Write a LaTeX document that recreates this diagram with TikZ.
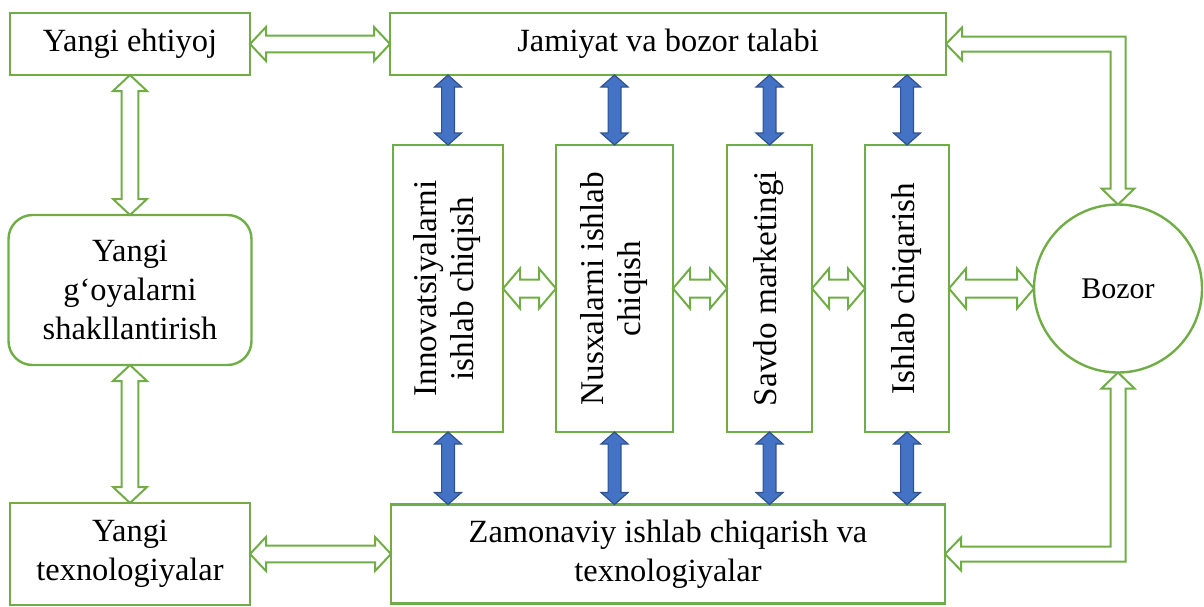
\documentclass[tikz,border=0pt]{standalone}
\usepackage{fontspec}
\setmainfont{Liberation Serif}
\usepackage{graphicx}
\usetikzlibrary{positioning,calc}
\definecolor{boxgreen}{HTML}{70AD47}
\definecolor{blueface}{HTML}{4472C4}
\definecolor{blueedge}{HTML}{2F528F}
\newcommand{\vtext}[1]{\rotatebox{90}{\begin{tabular}{@{}c@{}}#1\end{tabular}}}
\tikzset{
  tip len/.store in=\tipLen,
  tip half/.store in=\tipHalf,
  shaft half/.store in=\shaftHalf,
  box/.style={draw=boxgreen, line width=1.2pt, align=center, inner sep=2pt, outer sep=0pt,
    font=\fontsize{16.2}{19.5}\selectfont},
  colbox/.style={box, minimum height=143.5pt, font=\fontsize{16.6}{18.5}\selectfont},
  fatarrow/.style={to path={let \p1=(\tikztostart), \p2=(\tikztotarget),
      \n1={atan2(\y2-\y1,\x2-\x1)} in
      (\p1) -- ($(\p1)+(\n1:\tipLen)+(\n1+90:\tipHalf)$)
      -- ($(\p1)+(\n1:\tipLen)+(\n1+90:\shaftHalf)$)
      -- ($(\p2)+(\n1:-\tipLen)+(\n1+90:\shaftHalf)$)
      -- ($(\p2)+(\n1:-\tipLen)+(\n1+90:\tipHalf)$) -- (\p2)
      -- ($(\p2)+(\n1:-\tipLen)+(\n1-90:\tipHalf)$)
      -- ($(\p2)+(\n1:-\tipLen)+(\n1-90:\shaftHalf)$)
      -- ($(\p1)+(\n1:\tipLen)+(\n1-90:\shaftHalf)$)
      -- ($(\p1)+(\n1:\tipLen)+(\n1-90:\tipHalf)$) -- cycle}},
  hollow/.style={fatarrow, draw=boxgreen, fill=white, line width=1pt, line join=miter,
    tip len=8pt, tip half=8.5pt, shaft half=4.2pt},
  solidarrow/.style={fatarrow, draw=blueedge, fill=blueface, line width=0.6pt,
    tip len=6pt, tip half=6.75pt, shaft half=3.2pt},
}

\begin{document}
\begin{tikzpicture}[x=0.5pt, y=-0.5pt]
  \useasboundingbox (0,0) rectangle (1204,606);
  \node[box, minimum width=120pt, minimum height=31pt] (ehtiyoj) at (130,44) {Yangi ehtiyoj};
  \node[box, minimum width=278pt, minimum height=31pt, right=70pt of ehtiyoj] (jamiyat) {Jamiyat va bozor talabi};
  \node[box, rounded corners=12pt, minimum width=121.5pt, minimum height=75pt, below=70pt of ehtiyoj] (goya) {Yangi\\g‘oyalarni\\shakllantirish};
  \node[box, minimum width=120pt, minimum height=51pt, below=69pt of goya] (texno) {Yangi\\texnologiyalar};
  \node[box, minimum width=277pt, minimum height=49.5pt, right=70.5pt of texno] (zamon) {Zamonaviy ishlab chiqarish va\\texnologiyalar};

  % middle columns
  \node[colbox, minimum width=55pt, below right=35pt and 1.5pt of jamiyat.south west] (innov) {\vtext{Innovatsiyalarni\\ishlab chiqish}};
  \node[colbox, minimum width=58.5pt, right=26.5pt of innov] (nusxa) {\vtext{Nusxalarni ishlab\\chiqish}};
  \node[colbox, minimum width=42.5pt, right=27pt of nusxa] (savdo) {\vtext{Savdo marketingi}};
  \node[colbox, minimum width=42pt, right=26.5pt of savdo] (ishlab) {\vtext{Ishlab chiqarish}};
  \node[box, circle, minimum size=84pt, inner sep=0pt, font=\fontsize{15}{18}\selectfont, right=42.5pt of ishlab] (bozor) {Bozor};

  \foreach \c in {innov,nusxa,savdo,ishlab}{
    \draw[solidarrow] (\c.north |- jamiyat.south) to (\c.north);
    \draw[solidarrow] (\c.south) to (\c.south |- zamon.north);
  }

  \draw[hollow] (ehtiyoj.east) to (jamiyat.west);
  \draw[hollow] (ehtiyoj.south) to (ehtiyoj.south |- goya.north);
  \draw[hollow] (goya.south) to (goya.south |- texno.north);
  \draw[hollow] (texno.east) to (texno.east -| zamon.west);
  \draw[hollow, tip len=8.5pt, tip half=10pt, shaft half=4.5pt] (innov.east) to (nusxa.west);
  \draw[hollow, tip len=8.5pt, tip half=10pt, shaft half=4.5pt] (nusxa.east) to (savdo.west);
  \draw[hollow, tip len=8.5pt, tip half=10pt, shaft half=4.5pt] (savdo.east) to (ishlab.west);
  \draw[hollow, tip len=8.5pt, tip half=10pt, shaft half=4.5pt] (ishlab.east) to (bozor.west);

  % bent arrows to the market
  \draw[hollow] let \p1=(jamiyat.east), \p2=(bozor.north) in
    (\p1) -- (\x1+8pt,\y1+8.25pt) -- (\x1+8pt,\y1+3.75pt) -- (\x2+3.75pt,\y1+3.75pt)
    -- (\x2+3.75pt,\y2+8pt) -- (\x2+8.25pt,\y2+8pt) -- (\p2) -- (\x2-8.25pt,\y2+8pt)
    -- (\x2-3.75pt,\y2+8pt) -- (\x2-3.75pt,\y1-3.75pt) -- (\x1+8pt,\y1-3.75pt)
    -- (\x1+8pt,\y1-8.25pt) -- cycle;
  \draw[hollow] let \p1=(zamon.east), \p2=(bozor.south) in
    (\p1) -- (\x1+8pt,\y1+8.25pt) -- (\x1+8pt,\y1+3.75pt) -- (\x2-3.75pt,\y1+3.75pt)
    -- (\x2-3.75pt,\y2-8pt) -- (\x2-8.25pt,\y2-8pt) -- (\p2) -- (\x2+8.25pt,\y2-8pt)
    -- (\x2+3.75pt,\y2-8pt) -- (\x2+3.75pt,\y1-3.75pt) -- (\x1+8pt,\y1-3.75pt)
    -- (\x1+8pt,\y1-8.25pt) -- cycle;
\end{tikzpicture}
\end{document}
